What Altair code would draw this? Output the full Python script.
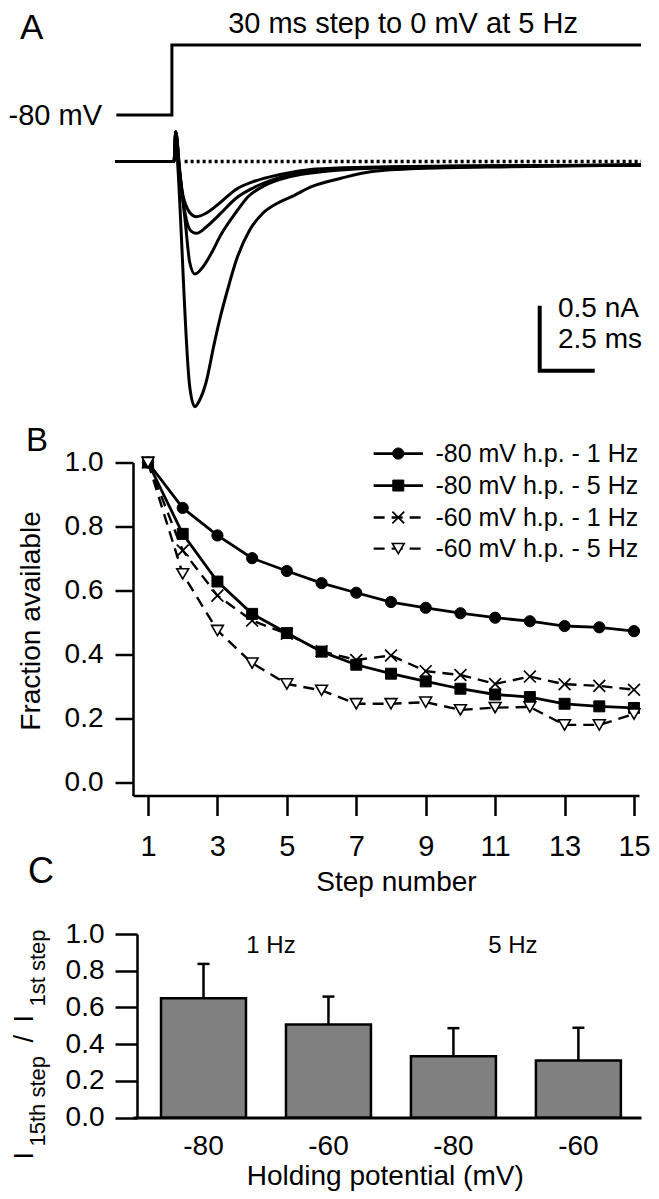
import altair as alt
import pandas as pd

FONT = "Liberation Sans"
ONE = pd.DataFrame({"n": [0]})

# ---------------- Panel A: currents (time after step onset in ms, current in nA) ----------------
pre_t = [-2.85, -0.07, 0.01]
pre_i = [0.0, 0.0, 0.237]

tr1_t = [0.19, 0.30, 0.55, 0.78, 0.98, 1.45, 2.08, 2.87, 3.66, 4.50, 5.50, 6.60, 9.00, 13.0, 21.96]
tr1_i = [-0.07, -0.22, -0.37, -0.425, -0.438, -0.41, -0.33, -0.22, -0.16, -0.12, -0.085, -0.06, -0.045, -0.036, -0.028]

tr2_t = [0.20, 0.35, 0.51, 0.75, 0.98, 1.45, 2.08, 2.87, 3.66, 4.50, 5.50, 6.60, 9.00, 13.0, 21.96]
tr2_i = [-0.07, -0.30, -0.46, -0.555, -0.57, -0.52, -0.42, -0.29, -0.21, -0.15, -0.10, -0.07, -0.05, -0.038, -0.028]

tr3_t = [0.19, 0.45, 0.67, 0.91, 1.30, 1.75, 2.08, 2.87, 3.42, 4.22, 5.42, 7.00, 9.00, 11.8, 21.96]
tr3_i = [-0.08, -0.46, -0.80, -0.893, -0.835, -0.71, -0.60, -0.40, -0.28, -0.19, -0.12, -0.08, -0.055, -0.042, -0.028]

tr4_t = [0.12, 0.67, 0.91, 1.14, 1.43, 1.83, 2.08, 2.48, 2.87, 3.50, 4.13, 4.83, 5.54, 6.41, 7.81, 9.20, 11.79, 15.78, 21.96]
tr4_i = [-0.067, -1.787, -1.946, -1.893, -1.760, -1.443, -1.258, -1.004, -0.782, -0.544, -0.409, -0.329,
         -0.274, -0.200, -0.133, -0.081, -0.054, -0.041, -0.028]

# voltage protocol (ms, mV)
step_t = [-2.79, -0.17, -0.17, 21.96]
step_mv = [-80, -80, 0, 0]

# zero-current reference (dotted)
zero_t = [0.43, 21.96]
zero_i = [0.0, 0.0]

# scale bar: 0.5 nA by 2.5 ms
sbar_t = [17.18, 17.18, 19.68]
sbar_i = [-1.16, -1.66, -1.66]

# ---------------- Panel B ----------------
steps = list(range(1, 16))
series_names = ["-80 mV h.p. - 1 Hz", "-80 mV h.p. - 5 Hz", "-60 mV h.p. - 1 Hz", "-60 mV h.p. - 5 Hz"]
b_m80_1hz = [1.0, 0.858, 0.772, 0.701, 0.661, 0.623, 0.593, 0.564, 0.546, 0.529, 0.515, 0.504, 0.489, 0.485, 0.473]
b_m80_5hz = [1.0, 0.777, 0.628, 0.527, 0.467, 0.409, 0.368, 0.340, 0.316, 0.293, 0.275, 0.267, 0.246, 0.238, 0.233]
b_m60_1hz = [1.0, 0.725, 0.584, 0.506, 0.465, 0.410, 0.383, 0.397, 0.348, 0.336, 0.308, 0.331, 0.307, 0.302, 0.290]
b_m60_5hz = [1.0, 0.652, 0.475, 0.373, 0.308, 0.288, 0.246, 0.246, 0.251, 0.227, 0.234, 0.236, 0.180, 0.180, 0.214]
b_values = [b_m80_1hz, b_m80_5hz, b_m60_1hz, b_m60_5hz]

# ---------------- Panel C ----------------
c_cond = ["-80 mV, 1 Hz", "-60 mV, 1 Hz", "-80 mV, 5 Hz", "-60 mV, 5 Hz"]
c_mean = [0.650, 0.507, 0.334, 0.311]
c_sem = [0.187, 0.152, 0.153, 0.178]

# ======================= build panel A =======================
rows = []
for k, (tt, ii) in enumerate([(tr1_t, tr1_i), (tr2_t, tr2_i), (tr3_t, tr3_i), (tr4_t, tr4_i)]):
    ts = pre_t + tt
    is_ = pre_i + ii
    for j, (a, b) in enumerate(zip(ts, is_)):
        rows.append({"t": a, "i": b, "trace": k, "k": j})
df_tr = pd.DataFrame(rows)
df_step = pd.DataFrame({"t": step_t, "mv": step_mv, "k": range(len(step_t))})
df_zero = pd.DataFrame({"t": zero_t, "i": zero_i})
df_sbar = pd.DataFrame({"t": sbar_t, "i": sbar_i, "k": range(len(sbar_t))})

A_W, A_H = 508, 315.5
xA = alt.X("t:Q", scale=alt.Scale(domain=[-2.005, 21.958], nice=False, zero=False), axis=None)
yA = alt.Y("i:Q", scale=alt.Scale(domain=[-1.2857, 1.2183], nice=False, zero=False), axis=None)
yV = alt.Y("mv:Q", scale=alt.Scale(domain=[-318.29, 42.29], nice=False, zero=False), axis=None)


def note(text, x, y, size, align="left", baseline="alphabetic", angle=None):
    kw = dict(text=text, font=FONT, fontSize=size, align=align, baseline=baseline, color="black")
    if angle is not None:
        kw["angle"] = angle
    return alt.Chart(ONE).mark_text(**kw).encode(x=alt.value(x), y=alt.value(y))


traces = alt.Chart(df_tr).mark_line(color="black", strokeWidth=3, interpolate="monotone",
                                    strokeJoin="round").encode(
    x=xA, y=yA, detail="trace:N", order="k:Q")
zero_line = alt.Chart(df_zero).mark_line(color="black", strokeWidth=3.5, strokeDash=[3, 3]).encode(x=xA, y=yA)
sbar = alt.Chart(df_sbar).mark_line(color="black", strokeWidth=4, strokeCap="square",
                                    strokeJoin="miter").encode(x=xA, y=yA, order="k:Q")
step = alt.Chart(df_step).mark_line(color="black", strokeWidth=3, strokeJoin="miter").encode(
    x=xA, y=yV, order="k:Q")

panelA = alt.layer(
    traces, zero_line, sbar, step,
    note("A", -113, 31, 35),
    note("30 ms step to 0 mV at 5 Hz", 270, 25, 29, align="center"),
    note("-80 mV", -31, 117, 29, align="right"),
    note("0.5 nA", 425, 309, 28),
    note("2.5 ms", 425, 340, 28),
).resolve_scale(y="independent").properties(width=A_W, height=A_H)

# ======================= build panel B =======================
B_W, B_H = 506, 333
xB = alt.X("step:Q", scale=alt.Scale(domain=[0.568, 15.144], nice=False, zero=False),
           axis=alt.Axis(values=[1, 3, 5, 7, 9, 11, 13, 15], format="d", grid=False, tickCount=20,
                         tickSize=20, tickWidth=2.5, tickColor="black",
                         domainWidth=2.5, domainColor="black",
                         labelFont=FONT, labelFontSize=29, labelColor="black", labelPadding=17,
                         labelFlush=False, labelOverlap=False,
                         title="Step number", titleFont=FONT, titleFontSize=28, titleFontWeight="normal",
                         titleColor="black", titleX=263, titleY=95, titleBaseline="alphabetic",
                         titleAlign="center"))
yB = alt.Y("value:Q", scale=alt.Scale(domain=[-0.0406, 1.0], nice=False, zero=False),
           axis=alt.Axis(values=[0, 0.2, 0.4, 0.6, 0.8, 1.0], format=".1f", grid=False, tickCount=12,
                         tickSize=18, tickWidth=2.5, tickColor="black",
                         domainWidth=2.5, domainColor="black",
                         labelFont=FONT, labelFontSize=28, labelColor="black", labelPadding=12,
                         labelOverlap=False,
                         title="Fraction available", titleFont=FONT, titleFontSize=28,
                         titleFontWeight="normal", titleColor="black", titleX=-102, titleY=158,
                         titleAngle=270, titleAlign="center", titleBaseline="middle"))

dashes = [None, None, [11, 7], [11, 7]]
widths = [2.8, 2.8, 2.4, 2.4]
marker_styles = [
    dict(shape="circle", filled=True, fill="black", stroke="black", strokeWidth=1, size=125),
    dict(shape="square", filled=True, fill="black", stroke="black", strokeWidth=1, size=120),
    dict(shape="M-1,-1L1,1M-1,1L1,-1", filled=False, stroke="black", strokeWidth=1.7, size=140),
    dict(shape="triangle-down", filled=True, fill="white", stroke="black", strokeWidth=1.6, size=140),
]

line_layers, point_layers = [], []
for name, vals, dash, w, ms in zip(series_names, b_values, dashes, widths, marker_styles):
    d = pd.DataFrame({"step": steps, "value": vals})
    lk = dict(color="black", strokeWidth=w)
    if dash:
        lk["strokeDash"] = dash
    line_layers.append(alt.Chart(d).mark_line(**lk).encode(x=xB, y=yB))
    point_layers.append(alt.Chart(d).mark_point(opacity=1, **ms).encode(x=xB, y=yB))

# legend (placed in data units of panel B)
leg_x0, leg_x1, leg_xm, leg_xt = 7.50, 8.92, 8.21, 9.28
leg_y = [1.028, 0.928, 0.828, 0.731]
legend_layers = []
for name, dash, w, ms, yv in zip(series_names, dashes, widths, marker_styles, leg_y):
    rk = dict(color="black", strokeWidth=w)
    if dash:
        rk["strokeDash"] = dash
    legend_layers.append(alt.Chart(ONE).mark_rule(**rk).encode(
        x=alt.datum(leg_x0), x2=alt.datum(leg_x1), y=alt.datum(yv)))
    legend_layers.append(alt.Chart(ONE).mark_point(opacity=1, **ms).encode(
        x=alt.datum(leg_xm), y=alt.datum(yv)))
    legend_layers.append(alt.Chart(ONE).mark_text(text=name, font=FONT, fontSize=25, align="left",
                                                  baseline="middle", color="black").encode(
        x=alt.datum(leg_xt), y=alt.datum(yv)))

panelB = alt.layer(
    *line_layers, *point_layers, *legend_layers,
    note("B", -107, -12, 33),
).properties(width=B_W, height=B_H)

# ======================= build panel C =======================
C_W, C_H = 508, 183.5
df_c = pd.DataFrame({"cond": c_cond, "mean": c_mean, "sem": c_sem})
xC = alt.X("cond:N", sort=c_cond,
           scale=alt.Scale(domain=c_cond, paddingInner=0.32, paddingOuter=0.1926, align=0.582),
           axis=alt.Axis(ticks=False, tickSize=0, domainWidth=3, domainColor="black", labelAngle=0,
                         labelFont=FONT, labelFontSize=28, labelColor="black", labelPadding=15,
                         labelExpr="split(datum.label, ' ')[0]",
                         title="Holding potential (mV)", titleFont=FONT, titleFontSize=28,
                         titleFontWeight="normal", titleColor="black", titleX=251.7, titleY=67,
                         titleBaseline="alphabetic", titleAlign="center"))
yC_scale = alt.Scale(domain=[0, 1], nice=False, zero=False)
yC_axis = alt.Axis(values=[0, 0.2, 0.4, 0.6, 0.8, 1.0], format=".1f", grid=False, offset=-4,
                   tickCount=12, tickSize=22, tickWidth=2.5, tickColor="black",
                   domainWidth=2.5, domainColor="black",
                   labelFont=FONT, labelFontSize=28, labelColor="black", labelPadding=11,
                   labelOverlap=False, title=None)

baseC = alt.Chart(df_c).transform_calculate(top="datum.mean + datum.sem")
bars = baseC.mark_bar(color="#808080", stroke="black", strokeWidth=2.5).encode(
    x=xC, y=alt.Y("mean:Q", scale=yC_scale, axis=yC_axis))
errs = baseC.mark_rule(color="black", strokeWidth=2.5).encode(
    x=xC, y=alt.Y("mean:Q", scale=yC_scale, axis=yC_axis), y2=alt.Y2("top:Q"))
caps = baseC.mark_tick(color="black", size=12, thickness=2.5, opacity=1).encode(
    x=xC, y=alt.Y("top:Q", scale=yC_scale, axis=yC_axis))

hz1 = alt.Chart(ONE).mark_text(text="1 Hz", font=FONT, fontSize=24, baseline="middle", dx=67.5,
                               color="black").encode(x=alt.datum(c_cond[0]), y=alt.datum(0.932))
hz5 = alt.Chart(ONE).mark_text(text="5 Hz", font=FONT, fontSize=24, baseline="middle", dx=59.5,
                               color="black").encode(x=alt.datum(c_cond[2]), y=alt.datum(0.932))

panelC = alt.layer(
    bars, errs, caps, hz1, hz5,
    note("C", -105, -51.5, 36),
    note("I", -100, 225.5, 27, angle=270),
    note("15th step", -88.5, 212.5, 22, angle=270),
    note("/", -100, 108.5, 27, angle=270),
    note("I", -100, 88.5, 27, angle=270),
    note("1st step", -88.5, 72.5, 22, angle=270),
).properties(width=C_W, height=C_H)

chart = alt.vconcat(panelA, panelB, panelC, spacing=138.5, bounds="flush").properties(
    padding=0, background="white"
).configure_view(stroke=None)

chart.save("out.html", embed_options={"renderer": "svg", "actions": False})
